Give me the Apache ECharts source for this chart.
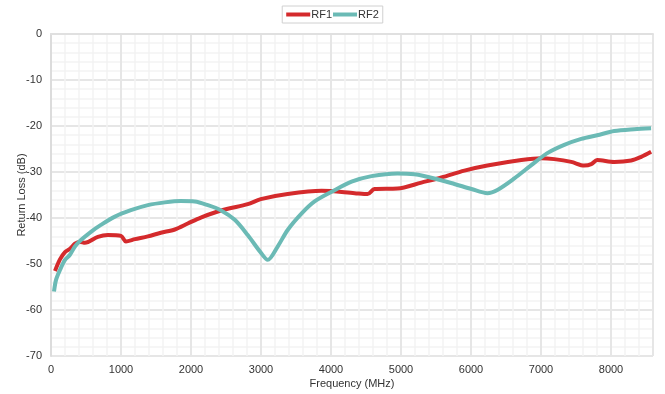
<!DOCTYPE html>
<html>
<head>
<meta charset="utf-8">
<script src="https://cdn.jsdelivr.net/npm/echarts@6/dist/echarts.min.js"></script>
<style>html,body{margin:0;padding:0;background:#fff}#c{width:665px;height:394px}</style>
</head>
<body>
<div id="c"></div>
<script>
// Frequency (MHz) and return loss (dB)
const rf1Freq = [57,128,200,271,342,414,485,670,813,1000,1070,1200,1384,1569,1769,1954,2140,2340,2525,2810,2996,3381,3866,4337,4522,4622,4950,5292,5578,5906,6234,6719,7004,7190,7432,7618,7718,7803,8046,8288,8431,8573];
const rf1Loss = [-51.5,-49,-47.4,-46.7,-45.6,-45.2,-45.4,-44.1,-43.7,-43.9,-45.1,-44.6,-44.0,-43.2,-42.5,-41.2,-39.9,-38.8,-38.0,-37.0,-35.9,-34.8,-34.1,-34.6,-34.8,-33.7,-33.6,-32.3,-31.2,-29.7,-28.6,-27.4,-27.0,-27.2,-27.8,-28.6,-28.3,-27.4,-27.8,-27.5,-26.7,-25.6];
const rf2Freq = [43,71,128,200,271,342,428,571,713,913,1141,1384,1626,1854,2054,2240,2425,2625,2810,2996,3096,3238,3381,3581,3766,4009,4294,4579,4950,5193,5478,5763,6006,6234,6377,6619,6862,7090,7332,7575,7803,8046,8331,8573];
const rf2Loss = [-56.0,-53.5,-51.3,-49.1,-48.0,-46.2,-44.8,-43.0,-41.5,-39.7,-38.3,-37.2,-36.6,-36.3,-36.4,-37.2,-38.3,-40.4,-43.7,-47.5,-49.1,-46.2,-42.6,-39.0,-36.4,-34.3,-32.1,-30.9,-30.3,-30.5,-31.4,-32.6,-33.7,-34.6,-33.9,-31.4,-28.5,-25.9,-24.1,-22.8,-22.0,-21.1,-20.7,-20.5];
const seriesNames = ['RF1','RF2'];

const zip = (a,b) => a.map((v,i)=>[v,b[i]]);
const chart = echarts.init(document.getElementById('c'));
const font = 'Liberation Sans, Arial, sans-serif';
chart.setOption({
  animation:false,
  textStyle:{fontFamily:font},
  legend:{
    top:6, left:'center',
    data:seriesNames,
    borderColor:'#d0d0d0', borderWidth:1, padding:[3,4,3,4],
    itemWidth:24, itemHeight:4, itemGap:1,
    icon:'rect',
    textStyle:{fontSize:11,color:'#333',fontFamily:font,padding:[0,0,0,-4]}
  },
  grid:{left:51,right:12,top:34,bottom:38,containLabel:false,outerBoundsMode:'none'},
  xAxis:{
    type:'value', min:0, max:8600, interval:1000,
    name:'Frequency (MHz)', nameLocation:'middle', nameGap:22, nameMoveOverlap:false,
    nameTextStyle:{fontSize:11,color:'#333'},
    axisLine:{show:true,lineStyle:{color:'#e0e0e0',width:2}},
    axisTick:{show:false},
    axisLabel:{fontSize:11,color:'#333',margin:8,showMaxLabel:false,formatter:v=>String(v)},
    splitLine:{show:true,lineStyle:{color:'#e6e6e6',width:2}},
    minorTick:{show:false,splitNumber:5},
    minorSplitLine:{show:true,lineStyle:{color:'#f3f3f3',width:1.5}}
  },
  yAxis:{
    type:'value', min:-70, max:0, interval:10,
    name:'Return Loss (dB)', nameLocation:'middle', nameGap:24, nameMoveOverlap:false,
    nameTextStyle:{fontSize:11,color:'#333'},
    axisLine:{show:true,lineStyle:{color:'#dcdcdc',width:2}},
    axisTick:{show:false},
    axisLabel:{fontSize:11,color:'#333',margin:9},
    splitLine:{show:true,lineStyle:{color:'#e6e6e6',width:2}},
    minorTick:{show:false,splitNumber:5},
    minorSplitLine:{show:true,lineStyle:{color:'#f3f3f3',width:1.5}}
  },
  series:[
    {name:seriesNames[0],type:'line',data:zip(rf1Freq,rf1Loss),showSymbol:false,smooth:0.3,
     itemStyle:{color:'#d42a2c'},lineStyle:{color:'#d42a2c',width:4}},
    {name:seriesNames[1],type:'line',data:zip(rf2Freq,rf2Loss),showSymbol:false,smooth:0.3,
     itemStyle:{color:'#6bbab5'},lineStyle:{color:'#6bbab5',width:4}}
  ]
});
</script>
</body>
</html>
